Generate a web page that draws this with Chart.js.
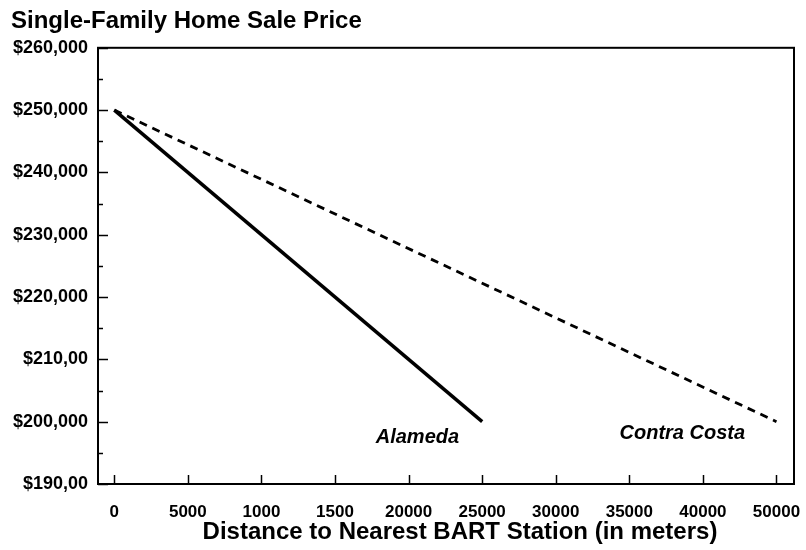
<!DOCTYPE html>
<html>
<head>
<meta charset="utf-8">
<script src="https://cdn.jsdelivr.net/npm/chart.js@4.4.1/dist/chart.umd.min.js"></script>
<style>
  html, body { margin: 0; padding: 0; background: #fff; }
  #wrap { width: 806px; height: 550px; }
</style>
</head>
<body>
<div id="wrap"><canvas id="c" width="806" height="550"></canvas></div>
<script>
// ---- data ----
const xTickLabels = ['0', '5000', '1000', '1500', '20000', '25000', '30000', '35000', '40000', '50000'];
const yTickValues = [190000, 200000, 210000, 220000, 230000, 240000, 250000, 260000];
const yTickLabels = ['$190,00', '$200,000', '$210,00', '$220,000', '$230,000', '$240,000', '$250,000', '$260,000'];

const alamedaX = ['0', '25000'];
const alamedaY = [250000, 200000];
const contraX = ['0', '50000'];
const contraY = [250000, 200000];

const seriesNames = ['Alameda', 'Contra Costa'];
const chartTitle = 'Single-Family Home Sale Price';
const xAxisTitle = 'Distance to Nearest BART Station (in meters)';

// ---- build points (x given as tick-label position) ----
function pts(xs, ys) {
  return xs.map((lab, i) => ({ x: xTickLabels.indexOf(lab), y: ys[i] }));
}

const FONT = 'Liberation Sans, Arial, Helvetica, sans-serif';

const framePlugin = {
  id: 'frame',
  afterDatasetsDraw(chart) {
    const { ctx, chartArea: a, scales } = chart;
    const xs = scales.x, ys = scales.y;
    ctx.save();
    ctx.strokeStyle = '#000';
    ctx.lineWidth = 2;
    ctx.strokeRect(a.left, a.top, a.right - a.left, a.bottom - a.top);
    // y ticks (inward), major every 10000, minor every 5000
    ctx.lineWidth = 1.5;
    for (let v = ys.min; v <= ys.max; v += 5000) {
      const y = Math.round(ys.getPixelForValue(v)) + 0.5;
      const len = (v % 10000 === 0) ? 10 : 5;
      ctx.beginPath();
      ctx.moveTo(a.left, y);
      ctx.lineTo(a.left + len, y);
      ctx.stroke();
    }
    // x ticks (inward)
    xTickLabels.forEach((_, i) => {
      const x = Math.round(xs.getPixelForValue(i)) + 0.5;
      ctx.beginPath();
      ctx.moveTo(x, a.bottom);
      ctx.lineTo(x, a.bottom - 9);
      ctx.stroke();
    });
    // series labels
    ctx.fillStyle = '#000';
    ctx.font = 'italic bold 20px ' + FONT;
    ctx.textAlign = 'center';
    ctx.textBaseline = 'middle';
    ctx.fillText(seriesNames[0], xs.getPixelForValue(4.12), ys.getPixelForValue(197500));
    ctx.fillText(seriesNames[1], xs.getPixelForValue(7.72), ys.getPixelForValue(198150));
    ctx.restore();
  }
};

new Chart(document.getElementById('c'), {
  type: 'line',
  data: {
    datasets: [
      {
        label: seriesNames[0],
        data: pts(alamedaX, alamedaY),
        borderColor: '#000',
        borderWidth: 3.5,
        pointRadius: 0,
        tension: 0,
        fill: false
      },
      {
        label: seriesNames[1],
        data: pts(contraX, contraY),
        borderColor: '#000',
        borderWidth: 2.8,
        borderDash: [8, 6],
        pointRadius: 0,
        tension: 0,
        fill: false
      }
    ]
  },
  options: {
    responsive: false,
    animation: false,
    devicePixelRatio: 1,
    layout: { padding: { left: 11, right: 12, top: 0, bottom: 0 } },
    plugins: {
      legend: { display: false },
      tooltip: { enabled: false },
      title: {
        display: true,
        text: chartTitle,
        align: 'start',
        color: '#000',
        font: { family: FONT, size: 24, weight: 'bold' },
        padding: { top: 7, bottom: 12 }
      }
    },
    scales: {
      x: {
        type: 'linear',
        min: -0.2215,
        max: 9.238,
        afterBuildTicks(scale) {
          scale.ticks = xTickLabels.map((_, i) => ({ value: i }));
        },
        afterFit(scale) {
          scale.height = 66;
          scale.paddingLeft = 0;
          scale.paddingRight = 0;
          if (!scale._titleShifted) {
            const orig = scale.drawTitle;
            scale.drawTitle = function () {
              this.ctx.save();
              this.ctx.translate(14, 0);
              orig.apply(this, arguments);
              this.ctx.restore();
            };
            scale._titleShifted = true;
          }
        },
        grid: { display: false, drawTicks: false },
        border: { display: false },
        ticks: {
          color: '#000',
          padding: 18,
          maxRotation: 0,
          autoSkip: false,
          font: { family: FONT, size: 17, weight: 'bold' },
          callback: (v) => xTickLabels[v]
        },
        title: {
          display: true,
          text: xAxisTitle,
          color: '#000',
          font: { family: FONT, size: 24, weight: 'bold' },
          padding: { top: 0, bottom: 3 }
        }
      },
      y: {
        type: 'linear',
        min: 190000,
        max: 260000,
        afterBuildTicks(scale) {
          scale.ticks = yTickValues.map(v => ({ value: v }));
        },
        afterFit(scale) { scale.width = 87; },
        grid: { display: false, drawTicks: false },
        border: { display: false },
        ticks: {
          color: '#000',
          padding: 10,
          autoSkip: false,
          font: { family: FONT, size: 18, weight: 'bold' },
          callback: (v) => yTickLabels[yTickValues.indexOf(v)]
        }
      }
    }
  },
  plugins: [framePlugin]
});
</script>
</body>
</html>
